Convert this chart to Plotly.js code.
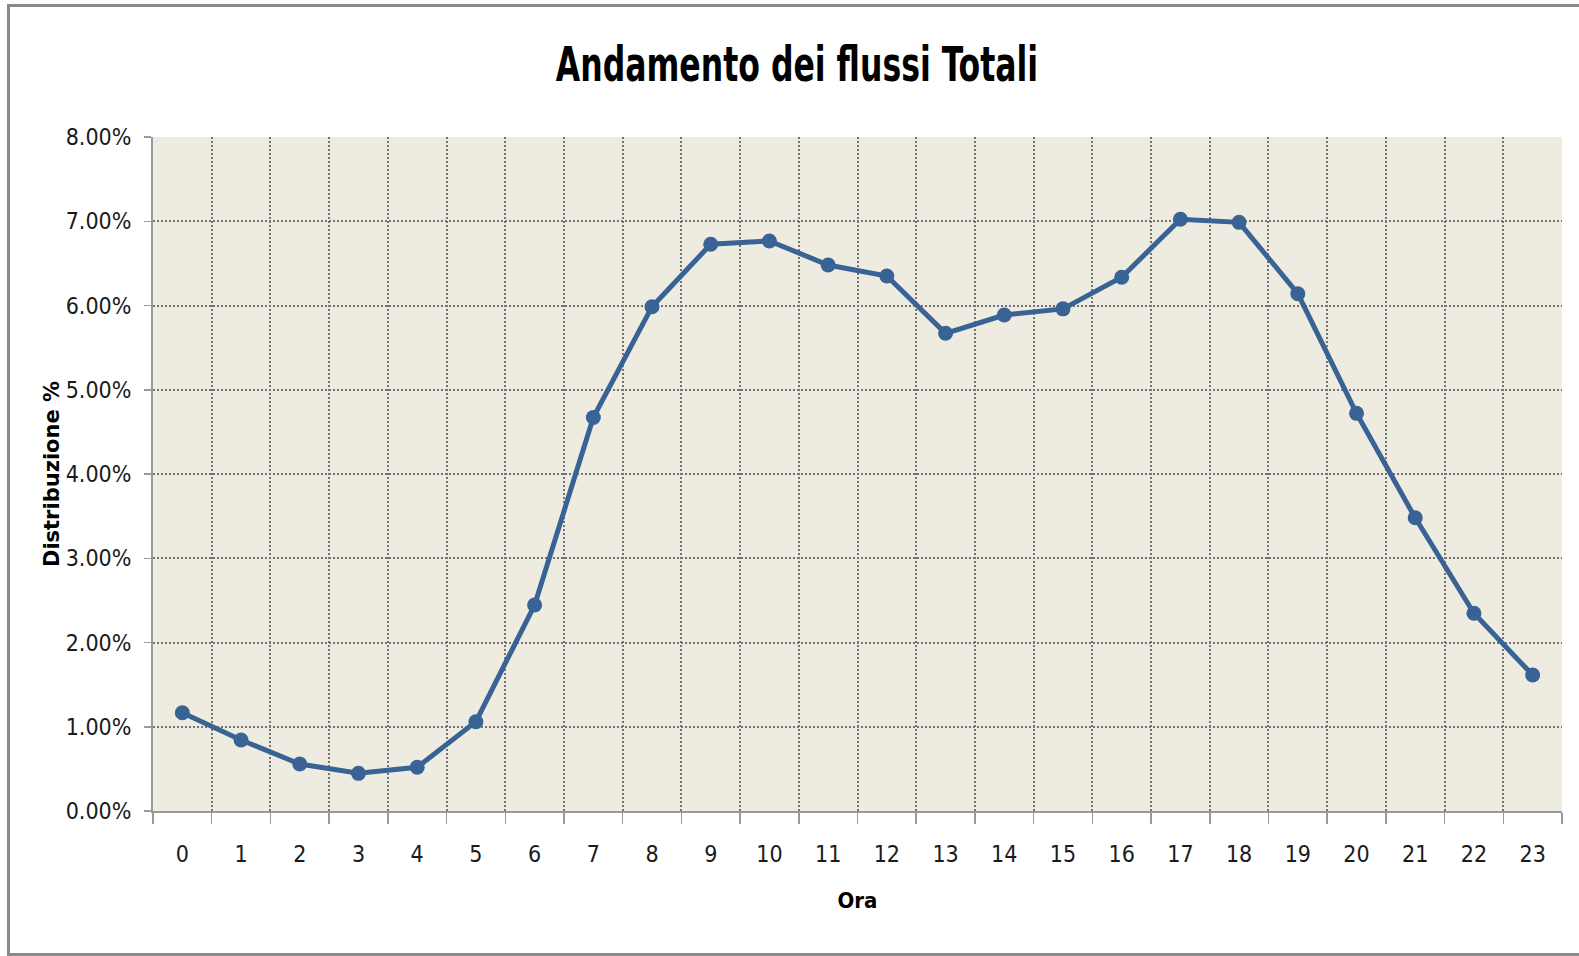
<!DOCTYPE html>
<html>
<head>
<meta charset="utf-8">
<script src="https://cdn.plot.ly/plotly-3.0.1.min.js"></script>
<style>
  html, body { margin: 0; padding: 0; background: #ffffff; }
  #wrap { position: relative; width: 1579px; height: 956px; overflow: hidden; }
  #chart { position: absolute; left: 0; top: 0; width: 1579px; height: 956px; }
  #frame { position: absolute; left: 7px; top: 4px; width: 1600px; height: 946px;
           border: 3px solid #8a8a8a; box-sizing: content-box; pointer-events: none; }
</style>
</head>
<body>
<div id="wrap">
  <div id="chart"></div>
  <div id="frame"></div>
</div>
<script>
// Data
const hours = ["0","1","2","3","4","5","6","7","8","9","10","11","12","13","14","15","16","17","18","19","20","21","22","23"];
const distribution = [0.01167, 0.00843, 0.00558, 0.00447, 0.00519, 0.0106, 0.02445, 0.0467, 0.05986, 0.06727, 0.06766, 0.0648,
                      0.0635, 0.0567, 0.05887, 0.0596, 0.06335, 0.07023, 0.06987, 0.0614, 0.0472, 0.0348, 0.02347, 0.01614];
const yTickValues = [0, 0.01, 0.02, 0.03, 0.04, 0.05, 0.06, 0.07, 0.08];

const chartTitle = "Andamento dei flussi Totali";
const xTitle = "Ora";
const yTitle = "Distribuzione %";

const narrow = "'DejaVu Sans Condensed', 'Liberation Sans Narrow', sans-serif";

const trace = {
  type: "scatter",
  mode: "lines+markers",
  x: hours,
  y: distribution,
  line: { color: "#386394", width: 5 },
  marker: { color: "#386394", size: 15, symbol: "circle" },
  hoverinfo: "x+y"
};

const gridStyle = { gridcolor: "#737373", gridwidth: 2, griddash: "2px,2px" };

const layout = {
  width: 1579,
  height: 956,
  paper_bgcolor: "#ffffff",
  plot_bgcolor: "#EEECE1",
  margin: { l: 153, r: 17, t: 137, b: 145 },
  showlegend: false,
  title: {
    text: "<b>" + chartTitle + "</b>",
    font: { family: narrow, size: 48, color: "#000000" },
    x: 797 / 1579, xref: "container", xanchor: "center",
    y: 1 - 64.5 / 956, yref: "container", yanchor: "middle"
  },
  xaxis: Object.assign({
    type: "category",
    categoryorder: "array",
    categoryarray: hours,
    tickson: "boundaries",
    ticks: "outside",
    ticklen: 11,
    tickwidth: 1.5,
    tickcolor: "#9a9a9a",
    showline: true,
    linecolor: "#9a9a9a",
    linewidth: 2,
    showgrid: true,
    tickfont: { family: narrow, size: 23, color: "#1a1a1a" },
    ticklabelstandoff: 21,
    range: [-0.5, 23.5],
    title: {
      text: "<b>" + xTitle + "</b>",
      font: { family: narrow, size: 22, color: "#000000" },
      standoff: 27
    }
  }, gridStyle),
  yaxis: Object.assign({
    range: [0, 0.08],
    tickvals: yTickValues,
    tickformat: ".2%",
    ticks: "outside",
    ticklen: 7,
    tickwidth: 1.5,
    tickcolor: "#9a9a9a",
    showline: true,
    linecolor: "#9a9a9a",
    linewidth: 2,
    zeroline: false,
    showgrid: true,
    tickfont: { family: narrow, size: 23, color: "#1a1a1a" },
    ticklabelstandoff: 8,
    title: {
      text: "<b>" + yTitle + "</b>",
      font: { family: "'DejaVu Sans', sans-serif", size: 21, color: "#000000" },
      standoff: 0
    }
  }, gridStyle)
};

Plotly.newPlot("chart", [trace], layout, { displayModeBar: false, staticPlot: true }).then(function (gd) {
  // Narrow the title horizontally to mimic the condensed look of the original
  const t = gd.querySelector(".gtitle");
  if (t) {
    const r = t.getBoundingClientRect();
    const cx = r.left + r.width / 2;
    const s = 0.73;
    const prev = t.getAttribute("transform") || "";
    t.setAttribute("transform", "translate(" + (cx * (1 - s)) + ",0) scale(" + s + ",1) " + prev);
  }
});
</script>
</body>
</html>
